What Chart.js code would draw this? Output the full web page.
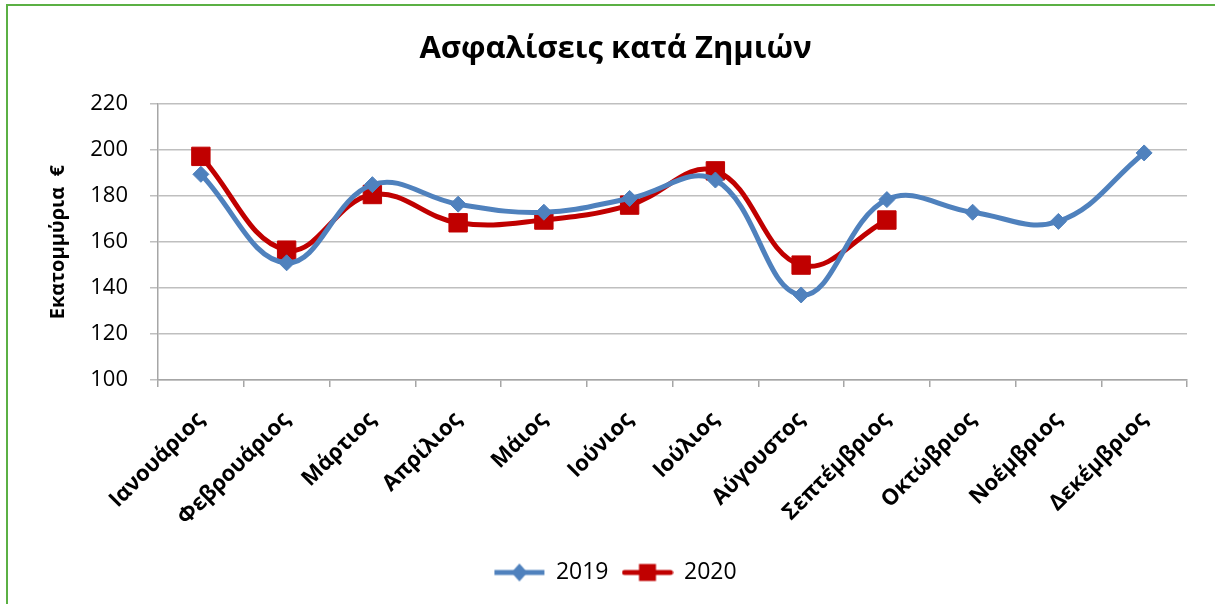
<!DOCTYPE html>
<html>
<head>
<meta charset="utf-8">
<script src="https://cdn.jsdelivr.net/npm/chart.js@4.4.1/dist/chart.umd.min.js"></script>
<style>
  html, body { margin: 0; padding: 0; background: #fff; }
  #wrap { position: relative; width: 1215px; height: 604px; }
  #frame { position: absolute; left: 6px; top: 4px; width: 1209px; height: 600px;
           border-left: 2px solid #5BB044; border-top: 2px solid #5BB044; box-sizing: border-box; pointer-events: none; }
  canvas { position: absolute; left: 0; top: 0; }
</style>
</head>
<body>
<div id="wrap">
  <canvas id="c" width="1215" height="604"></canvas>
  <div id="frame"></div>
</div>
<script>
const categories = ['Ιανουάριος','Φεβρουάριος','Μάρτιος','Απρίλιος','Μάιος','Ιούνιος','Ιούλιος','Αύγουστος','Σεπτέμβριος','Οκτώβριος','Νοέμβριος','Δεκέμβριος'];
const values2019 = [189.5, 151, 185, 176.5, 173, 179, 187, 137, 178.5, 173, 169, 198.8];
const values2020 = [197.3, 156.5, 180.7, 168.4, 169.6, 176.1, 191, 150, 169.6, null, null, null];
const yTicks = [100, 120, 140, 160, 180, 200, 220];
const chartTitle = 'Ασφαλίσεις κατά Ζημιών';
const yTitle = 'Εκατομμύρια  €';
const seriesNames = ['2019', '2020'];

const BLUE = '#4F81BD';
const RED = '#C00000';
const FONT = "'Open Sans', 'DejaVu Sans', sans-serif";

function legendIcon(color, kind) {
  const cv = document.createElement('canvas');
  cv.width = 52; cv.height = 22;
  const g = cv.getContext('2d');
  g.strokeStyle = color; g.fillStyle = color;
  g.lineWidth = 5;
  g.lineCap = kind === 'rect' ? 'round' : 'butt';
  g.beginPath(); g.moveTo(kind === 'rect' ? 3 : 1, 11); g.lineTo(kind === 'rect' ? 49 : 51, 11); g.stroke();
  if (kind === 'rect') {
    g.fillRect(26 - 8.5, 11 - 8.5, 17, 17);
  } else {
    g.beginPath(); g.moveTo(26, 2); g.lineTo(34, 11); g.lineTo(26, 20); g.lineTo(18, 11); g.closePath(); g.fill();
  }
  return cv;
}
const icons = [legendIcon(BLUE, 'diamond'), legendIcon(RED, 'rect')];

new Chart(document.getElementById('c'), {
  type: 'line',
  data: {
    labels: categories,
    datasets: [
      { label: seriesNames[0], data: values2019, borderColor: BLUE, backgroundColor: BLUE,
        borderWidth: 5, tension: 0.4, pointStyle: 'rectRot', pointRadius: 8, pointBorderWidth: 1,
        pointBackgroundColor: BLUE, pointBorderColor: BLUE, fill: false },
      { label: seriesNames[1], data: values2020, borderColor: RED, backgroundColor: RED,
        borderWidth: 5, tension: 0.4, pointStyle: 'rect', pointRadius: 13, pointBorderWidth: 1,
        pointBackgroundColor: RED, pointBorderColor: RED, fill: false, spanGaps: false }
    ]
  },
  options: {
    responsive: false,
    animation: false,
    events: [],
    layout: { padding: { left: 44, right: 28, top: 0, bottom: 10 } },
    plugins: {
      title: { display: true, text: chartTitle, color: '#000',
               font: { family: FONT, size: 31, weight: 'bold', lineHeight: 1.2 },
               padding: { top: 31, bottom: 36 } },
      legend: { position: 'bottom',
        labels: { color: '#000', font: { family: FONT, size: 23 }, padding: 14,
                  usePointStyle: true, pointStyleWidth: 50, boxHeight: 23,
                  generateLabels: (chart) => chart.data.datasets.map((ds, i) => ({
                    text: ds.label, pointStyle: icons[i], fillStyle: ds.borderColor,
                    strokeStyle: ds.borderColor, lineWidth: 0, hidden: false, datasetIndex: i, fontColor: '#000'
                  })) } },
      tooltip: { enabled: false }
    },
    scales: {
      x: {
        offset: true,
        grid: { display: true, offset: true, drawOnChartArea: false, color: '#A6A6A6', lineWidth: 1.5, tickLength: 7 },
        border: { display: true, color: '#A6A6A6', width: 1.5 },
        ticks: { color: '#000', font: { family: FONT, size: 22, weight: 'bold' }, minRotation: 45, maxRotation: 45, padding: 20, autoSkip: false },
        afterFit: (s) => { s.height = 167; }
      },
      y: {
        min: 100, max: 220,
        afterBuildTicks: (s) => { s.ticks = yTicks.map(v => ({ value: v })); },
        grid: { color: '#BFBFBF', lineWidth: 1.5, tickLength: 8 },
        border: { display: true, color: '#A6A6A6', width: 1.5 },
        ticks: { color: '#000', font: { family: FONT, size: 22 }, padding: 22 },
        title: { display: true, text: yTitle, color: '#000', font: { family: FONT, size: 20, weight: 'bold' }, padding: { top: 2, bottom: 0 } },
        afterFit: (s) => { s.width = 114; }
      }
    }
  }
});
</script>
</body>
</html>
